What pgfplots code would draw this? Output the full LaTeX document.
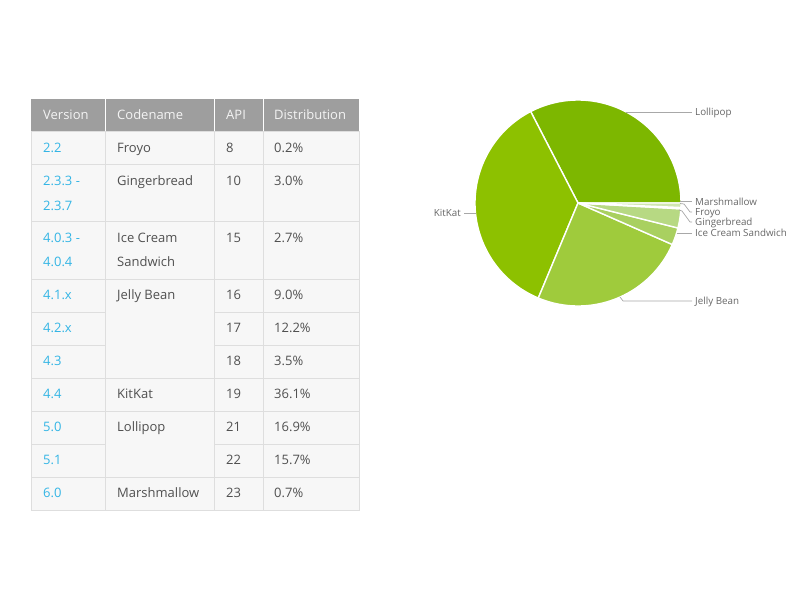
\documentclass[border=0pt]{standalone}
\usepackage{pgfplots}
\pgfplotsset{compat=1.18}
\usepackage{fontspec}
\setmainfont{Open Sans}
\definecolor{hdr}{HTML}{9E9E9E}
\definecolor{hdrtxt}{HTML}{F4F4F4}
\definecolor{cellbg}{HTML}{F7F7F7}
\definecolor{gridc}{HTML}{DEDEDE}
\definecolor{vblue}{HTML}{33B5E5}
\definecolor{txt}{HTML}{505050}
\definecolor{lbl}{HTML}{666666}
\definecolor{lead}{HTML}{A8A8A8}
\definecolor{cLol}{HTML}{7DB700}
\definecolor{cKit}{HTML}{8DC100}
\definecolor{cJB}{HTML}{9FCB3C}
\definecolor{cICS}{HTML}{A9D060}
\definecolor{cGB}{HTML}{B7D983}
\definecolor{cFro}{HTML}{C5E19C}
\definecolor{cMM}{HTML}{D0E6B0}
\newcommand{\pieslice}[3]{%
  \addplot[draw=white, line width=1.4pt, fill=#3, domain=#1*3.6:#2*3.6, samples=90, variable=\t]
    ({cos(\t)},{sin(\t)}) -- (axis cs:0,0) -- cycle;}
\begin{document}
\begin{tikzpicture}
\useasboundingbox (0,0) rectangle (800pt,-600pt);
\begin{scope}[x=1pt,y=-1pt]
  % table backgrounds
  \fill[hdr] (31,99) rectangle (359,131);
  \fill[cellbg] (31,131) rectangle (359,510);
  \draw[white, line width=1pt] (105,99)--(105,131) (214,99)--(214,131) (263,99)--(263,131);
  % grid lines
  \draw[gridc, line width=1pt] (31,131) rectangle (359,510);
  \draw[gridc, line width=1pt]
    (105,131)--(105,510) (214,131)--(214,510) (263,131)--(263,510)
    (31,164)--(359,164) (31,221)--(359,221) (31,279)--(359,279)
    (31,312)--(105,312) (214,312)--(359,312)
    (31,345)--(105,345) (214,345)--(359,345)
    (31,378)--(359,378) (31,411)--(359,411)
    (31,444)--(105,444) (214,444)--(359,444)
    (31,477)--(359,477);
  \begin{scope}[every node/.style={anchor=base west, inner sep=0pt, font=\fontsize{13}{15}\selectfont}]
    % header
    \node[text=hdrtxt] at (43,119.6) {Version};
    \node[text=hdrtxt] at (117,119.6) {Codename};
    \node[text=hdrtxt] at (226,119.6) {API};
    \node[text=hdrtxt] at (274,119.6) {Distribution};
    % versions
    \node[text=vblue] at (43,152.6) {2.2};
    \node[text=vblue] at (43,185.6) {2.3.3 -};
    \node[text=vblue] at (43,210.6) {2.3.7};
    \node[text=vblue] at (43,242.6) {4.0.3 -};
    \node[text=vblue] at (43,266.6) {4.0.4};
    \node[text=vblue] at (43,299.6) {4.1.x};
    \node[text=vblue] at (43,332.6) {4.2.x};
    \node[text=vblue] at (43,365.6) {4.3};
    \node[text=vblue] at (43,398.6) {4.4};
    \node[text=vblue] at (43,431.6) {5.0};
    \node[text=vblue] at (43,464.6) {5.1};
    \node[text=vblue] at (43,497.6) {6.0};
    % codenames
    \node[text=txt] at (117,152.6) {Froyo};
    \node[text=txt] at (117,185.6) {Gingerbread};
    \node[text=txt] at (117,242.6) {Ice Cream};
    \node[text=txt] at (117,266.6) {Sandwich};
    \node[text=txt] at (117,299.6) {Jelly Bean};
    \node[text=txt] at (117,398.6) {KitKat};
    \node[text=txt] at (117,431.6) {Lollipop};
    \node[text=txt] at (117,497.6) {Marshmallow};
    % API
    \node[text=txt] at (226,152.6) {8};
    \node[text=txt] at (226,185.6) {10};
    \node[text=txt] at (226,242.6) {15};
    \node[text=txt] at (226,299.6) {16};
    \node[text=txt] at (226,332.6) {17};
    \node[text=txt] at (226,365.6) {18};
    \node[text=txt] at (226,398.6) {19};
    \node[text=txt] at (226,431.6) {21};
    \node[text=txt] at (226,464.6) {22};
    \node[text=txt] at (226,497.6) {23};
    % distribution
    \node[text=txt] at (274,152.6) {0.2\%};
    \node[text=txt] at (274,185.6) {3.0\%};
    \node[text=txt] at (274,242.6) {2.7\%};
    \node[text=txt] at (274,299.6) {9.0\%};
    \node[text=txt] at (274,332.6) {12.2\%};
    \node[text=txt] at (274,365.6) {3.5\%};
    \node[text=txt] at (274,398.6) {36.1\%};
    \node[text=txt] at (274,431.6) {16.9\%};
    \node[text=txt] at (274,464.6) {15.7\%};
    \node[text=txt] at (274,497.6) {0.7\%};
  \end{scope}
\end{scope}
\begin{axis}[at={(578pt,-203pt)}, anchor=center, width=206pt, height=206pt,
  scale only axis, xmin=-1, xmax=1, ymin=-1, ymax=1, hide axis, clip=false]
  % cumulative shares (%): Lollipop 32.6, KitKat 36.1, Jelly Bean 24.7, ICS 2.7, Gingerbread 3.0, Froyo 0.2, Marshmallow 0.7
  \pieslice{0}{32.6}{cLol}
  \pieslice{32.6}{68.7}{cKit}
  \pieslice{68.7}{93.4}{cJB}
  \pieslice{93.4}{96.1}{cICS}
  \pieslice{96.1}{99.1}{cGB}
  \pieslice{99.1}{99.3}{cFro}
  \pieslice{99.3}{100}{cMM}
\end{axis}
\begin{scope}[x=1pt,y=-1pt]
  \draw[lead, line width=0.7pt] (626,112)--(692,112);
  \draw[lead, line width=0.7pt] (464,213)--(476,213);
  \draw[lead, line width=0.7pt] (620,297)--(623,301)--(692,301);
  \draw[lead, line width=0.7pt] (680,201.5)--(692,201.5);
  \draw[lead, line width=0.7pt] (680,203.5)--(684,204)--(690,212)--(692,212);
  \draw[lead, line width=0.7pt] (679,210)--(682,211)--(690,222)--(692,222);
  \draw[lead, line width=0.7pt] (677,233)--(692,233);
  \begin{scope}[every node/.style={inner sep=0pt, text=lbl, font=\fontsize{9.8}{11}\selectfont}]
    \node[anchor=base west] at (695,115.5) {Lollipop};
    \node[anchor=base east] at (461,216.5) {KitKat};
    \node[anchor=base west] at (695,304.5) {Jelly Bean};
    \node[anchor=base west] at (695,205) {Marshmallow};
    \node[anchor=base west] at (695,215.5) {Froyo};
    \node[anchor=base west] at (695,225.5) {Gingerbread};
    \node[anchor=base west] at (695,236.5) {Ice Cream Sandwich};
  \end{scope}
\end{scope}
\end{tikzpicture}
\end{document}
